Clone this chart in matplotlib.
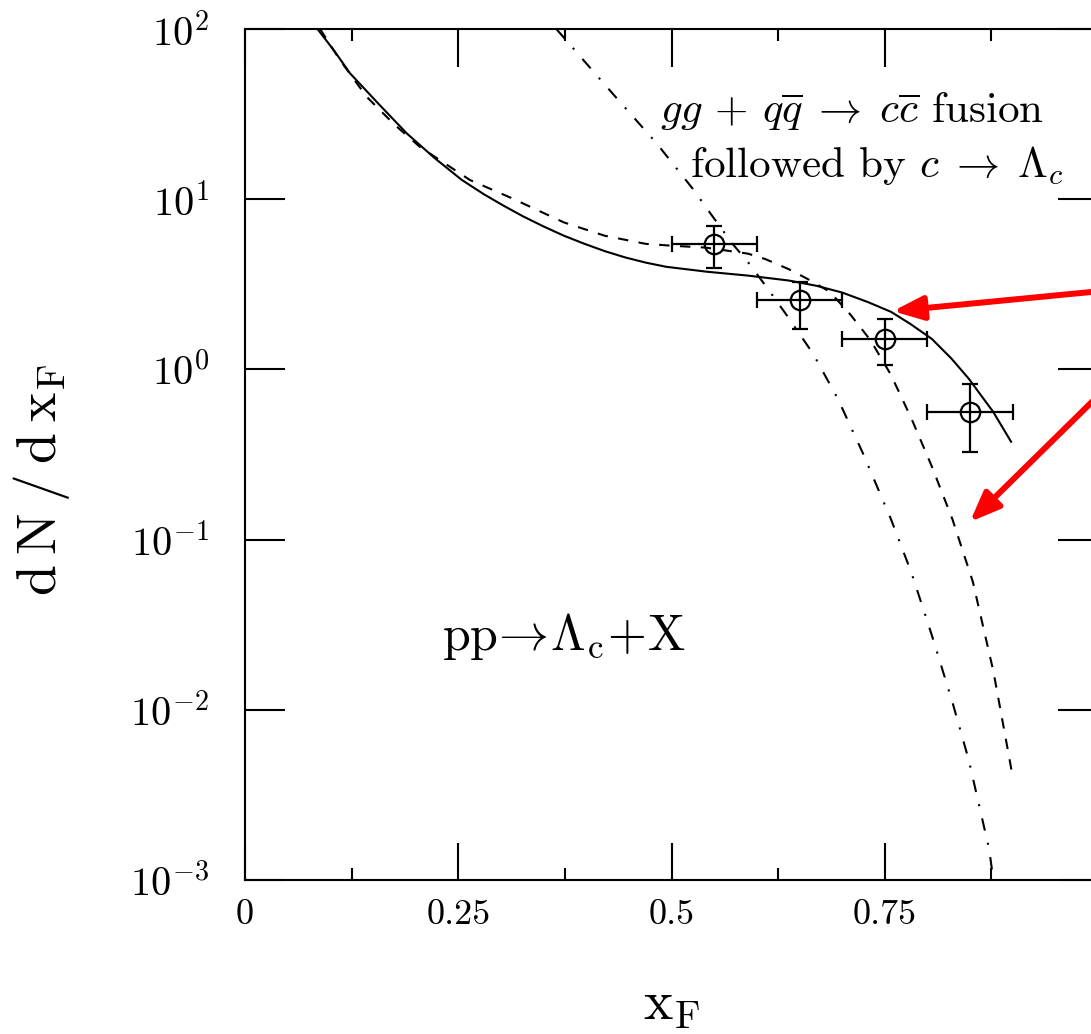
import numpy as np
import matplotlib
matplotlib.use("Agg")
import matplotlib.pyplot as plt
from matplotlib.ticker import FixedLocator, FixedFormatter, NullLocator, LogLocator

plt.rcParams['font.family'] = ['cmr10', 'DejaVu Serif']
plt.rcParams['mathtext.fontset'] = 'cm'
plt.rcParams['axes.formatter.use_mathtext'] = True

# measured Lambda_c points (x_F, dN/dx_F) with error bounds
data_xf = [0.55, 0.65, 0.75, 0.85]
data_y = [5.45, 2.56, 1.51, 0.562]
data_ylo = [3.95, 1.73, 1.06, 0.326]
data_yhi = [6.96, 3.25, 1.97, 0.817]
data_xerr = [0.05, 0.05, 0.05, 0.05]

# solid curve
solid_x = [0.085, 0.105, 0.123, 0.158, 0.1895, 0.222, 0.254, 0.280, 0.302, 0.326,
           0.350, 0.374, 0.398, 0.422, 0.4458, 0.470, 0.4937, 0.5417, 0.5896, 0.6375,
           0.670, 0.700, 0.730, 0.7573, 0.780, 0.8052, 0.828, 0.8485, 0.8772, 0.898]
solid_y = [100, 74, 55, 35.7, 24.4, 17.5, 13.0, 10.7, 9.23, 7.93,
           6.92, 6.10, 5.47, 4.95, 4.55, 4.24, 4.01, 3.75, 3.56, 3.33,
           3.10, 2.83, 2.49, 2.18, 1.85, 1.51, 1.16, 0.881, 0.562, 0.376]

# dashed curve
dash_x = [0.088, 0.111, 0.1426, 0.175, 0.205, 0.2637, 0.3116, 0.3738, 0.4219, 0.4697,
          0.4986, 0.540, 0.5896, 0.610, 0.6375, 0.660, 0.6855, 0.710, 0.7334, 0.757,
          0.7813, 0.805, 0.8293, 0.8532, 0.8772, 0.8964, 0.900]
dash_y = [100, 66, 40, 27.5, 20.3, 12.97, 10.2, 7.31, 6.10, 5.47,
          5.34, 5.2, 4.79, 4.45, 3.88, 3.39, 2.86, 2.09, 1.48, 0.933,
          0.513, 0.27, 0.1315, 0.0565, 0.0169, 0.00505, 0.0040]

# dash-dotted curve
dd_x = [0.365, 0.4239, 0.4825, 0.525, 0.5465, 0.572, 0.5896, 0.6135, 0.6375, 0.6662,
        0.695, 0.7238, 0.7573, 0.7813, 0.8052, 0.8293, 0.8485, 0.8628, 0.8724, 0.8772]
dd_y = [100, 45.8, 21.3, 11.5, 8.13, 5.43, 4.27, 2.95, 2.0, 1.23,
        0.671, 0.326, 0.1315, 0.0637, 0.02734, 0.01106, 0.00505, 0.00245, 0.00151, 0.001]

x_ticks = [0, 0.25, 0.5, 0.75, 1.0]
x_ticklabels = ['0', '0.25', '0.5', '0.75', '1']
x_minor = [0.125, 0.375, 0.625, 0.875]

fig = plt.figure(figsize=(10.91, 10.34), dpi=100)
ax = fig.add_axes([0.2246, 0.1489, 0.7819, 0.8230])

ax.plot(solid_x, solid_y, color='k', lw=1.5)
ax.plot(dash_x, dash_y, color='k', lw=1.5, dashes=(5, 5))
ax.plot(dd_x, dd_y, color='k', lw=1.5, dashes=(6, 6, 1, 6))

yerr = [np.array(data_y) - np.array(data_ylo), np.array(data_yhi) - np.array(data_y)]
ax.errorbar(data_xf, data_y, xerr=data_xerr, yerr=yerr, fmt='o', color='k',
            mfc='none', mec='k', ms=14, mew=1.6, elinewidth=1.6,
            capsize=5.5, capthick=1.6)

ax.set_yscale('log')
ax.set_xlim(0, 1)
ax.set_ylim(1e-3, 1e2)

ax.xaxis.set_major_locator(FixedLocator(x_ticks))
ax.xaxis.set_major_formatter(FixedFormatter(x_ticklabels))
ax.xaxis.set_minor_locator(FixedLocator(x_minor))
ax.yaxis.set_major_locator(LogLocator(base=10, numticks=10))
ax.yaxis.set_minor_locator(NullLocator())

ax.tick_params(which='both', direction='in', top=True, right=True, width=1.5)
ax.tick_params(axis='x', which='major', length=27, pad=14, labelsize=26)
ax.tick_params(axis='x', which='minor', length=8.5)
ax.tick_params(axis='y', which='major', length=29, pad=26, labelsize=29)
for s in ax.spines.values():
    s.set_linewidth(1.5)

ax.set_xlabel(r'$\mathrm{x_F}$', fontsize=40, labelpad=36)
ax.set_ylabel(r'$\mathrm{d\:N\:/\:d\:x_F}$', fontsize=40)
ax.yaxis.set_label_coords(-0.203, 0.47)

ax.text(0.4863, 28.1, r'$gg\,+\,q\overline{q}\;\rightarrow\;c\overline{c}$ fusion',
        fontsize=31, va='baseline', ha='left')
ax.text(0.5215, 13.5, r'followed by $c\;\rightarrow\;\Lambda_c$',
        fontsize=31, va='baseline', ha='left')
ax.text(0.2305, 0.0224, r'$\mathrm{pp}\!\rightarrow\!\Lambda_{\mathrm{c}}\!+\!\mathrm{X}$',
        fontsize=36, va='baseline', ha='left')

arrow_style = dict(arrowstyle='-|>,head_length=0.45,head_width=0.18', color='red',
                   lw=4.3, mutation_scale=40, shrinkA=0, shrinkB=0)
ax.annotate('', xy=(0.7594, 2.20), xytext=(1.03, 2.975), arrowprops=arrow_style,
            annotation_clip=False)
ax.annotate('', xy=(0.8497, 0.127), xytext=(1.03, 0.984), arrowprops=arrow_style,
            annotation_clip=False)

fig.savefig('out.png', dpi=100)
